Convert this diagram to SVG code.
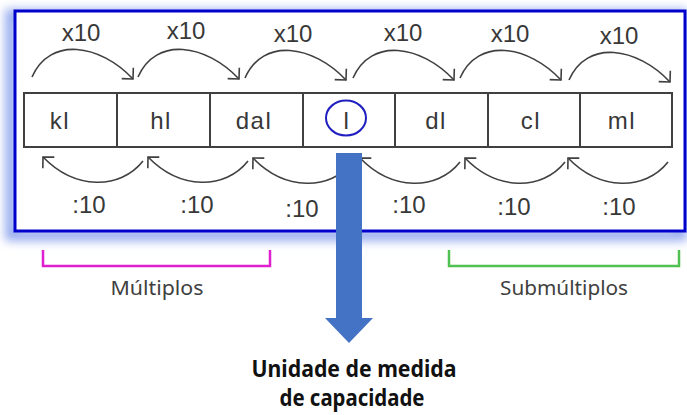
<svg xmlns="http://www.w3.org/2000/svg" width="687" height="415" viewBox="0 0 687 415">
<style>
.lbl{font-family:"Liberation Sans",Arial,sans-serif;font-size:24px;fill:#383838;text-anchor:middle}
.cell{fill:#fff;stroke:#404040;stroke-width:2}
.unit{font-family:"Liberation Sans",Arial,sans-serif;font-size:24px;fill:#383838;text-anchor:middle;letter-spacing:1.5px}
.arc{fill:none;stroke:#404040;stroke-width:1.6;marker-end:url(#ah)}
.cap{font-family:"Noto Sans","Open Sans",sans-serif;font-size:19px;fill:#404040;text-anchor:middle}
.big{font-family:"Noto Sans","Open Sans",sans-serif;font-size:23.5px;font-weight:bold;fill:#111;text-anchor:middle}
</style>
<defs>
<marker id="ah" markerUnits="userSpaceOnUse" markerWidth="20" markerHeight="20" viewBox="-10 -10 12 20" refX="0" refY="0" orient="auto" overflow="visible">
<path d="M-8,-8 L0,0 L-8,8" fill="none" stroke="#404040" stroke-width="1.6"/>
</marker>
<filter id="glow" x="-10%" y="-20%" width="120%" height="140%">
<feGaussianBlur stdDeviation="5"/>
</filter>
</defs>
<rect width="687" height="415" fill="#fff"/>
<g id="frame">
<rect x="11" y="15" width="670" height="220" fill="none" stroke="#9aaef0" stroke-width="12" filter="url(#glow)"/>
<rect x="15" y="11" width="670" height="220" fill="#fff" stroke="#0000cc" stroke-width="3"/>
</g>
<g id="table">
<g id="cell-kl"><rect class="cell" x="24" y="93" width="93" height="54"/><text class="unit" x="60" y="129">kl</text></g>
<g id="cell-hl"><rect class="cell" x="117" y="93" width="93" height="54"/><text class="unit" x="161" y="129">hl</text></g>
<g id="cell-dal"><rect class="cell" x="210" y="93" width="93" height="54"/><text class="unit" x="254" y="129">dal</text></g>
<g id="cell-l"><rect class="cell" x="303" y="93" width="92" height="54"/><ellipse cx="346" cy="118" rx="20" ry="17.5" fill="none" stroke="#2020c0" stroke-width="2"/><text class="unit" x="347" y="129">l</text></g>
<g id="cell-dl"><rect class="cell" x="395" y="93" width="93" height="54"/><text class="unit" x="436" y="129">dl</text></g>
<g id="cell-cl"><rect class="cell" x="488" y="93" width="92" height="54"/><text class="unit" x="531" y="129">cl</text></g>
<g id="cell-ml"><rect class="cell" x="580" y="93" width="92" height="54"/><text class="unit" x="622" y="129">ml</text></g>
</g>
<g id="connectors">
<path class="arc" d="M32,77 c18,-41 68,-33 101,2"/>
<path class="arc" d="M138,77 c18,-41 68,-33 101,2"/>
<path class="arc" d="M245,78 c18,-41 68,-33 101,2"/>
<path class="arc" d="M353,78 c18,-41 68,-33 101,2"/>
<path class="arc" d="M460,78 c18,-41 68,-33 101,2"/>
<path class="arc" d="M569,80 c18,-41 68,-33 101,2"/>
<path class="arc" d="M143,161 c-23,29 -68,29 -100,-4"/>
<path class="arc" d="M248,161 c-23,29 -68,29 -100,-4"/>
<path class="arc" d="M353,162 c-23,29 -68,29 -100,-4"/>
<path class="arc" d="M460,162 c-23,29 -68,29 -100,-4"/>
<path class="arc" d="M565,162 c-23,29 -68,29 -100,-4"/>
<path class="arc" d="M668,162 c-23,29 -68,29 -100,-4"/>
</g>
<g id="labels">
<text class="lbl" x="81" y="41">x10</text>
<text class="lbl" x="186" y="39">x10</text>
<text class="lbl" x="293" y="42">x10</text>
<text class="lbl" x="403" y="41">x10</text>
<text class="lbl" x="510" y="42">x10</text>
<text class="lbl" x="619" y="44">x10</text>
<text class="lbl" x="89" y="213">:10</text>
<text class="lbl" x="197" y="213">:10</text>
<text class="lbl" x="302" y="217">:10</text>
<text class="lbl" x="409" y="213">:10</text>
<text class="lbl" x="514" y="215">:10</text>
<text class="lbl" x="619" y="215">:10</text>
</g>
<g id="multiplos">
<path d="M43,250 V266 H270 V250" fill="none" stroke="#e020d0" stroke-width="2.5"/>
<text class="cap" x="157" y="295" textLength="93" lengthAdjust="spacingAndGlyphs">Múltiplos</text>
</g>
<g id="submultiplos">
<path d="M449,250 V266 H679 V250" fill="none" stroke="#50c050" stroke-width="2.5"/>
<text class="cap" x="564" y="295" textLength="128" lengthAdjust="spacingAndGlyphs">Submúltiplos</text>
</g>
<g id="unit-arrow">
<path d="M336,153 H362 V318 H373 L349,343 L325,318 H336 Z" fill="#4472c4"/>
<text class="big" x="354" y="377" textLength="205" lengthAdjust="spacingAndGlyphs">Unidade de medida</text>
<text class="big" x="352" y="406" textLength="145" lengthAdjust="spacingAndGlyphs">de capacidade</text>
</g>
</svg>
